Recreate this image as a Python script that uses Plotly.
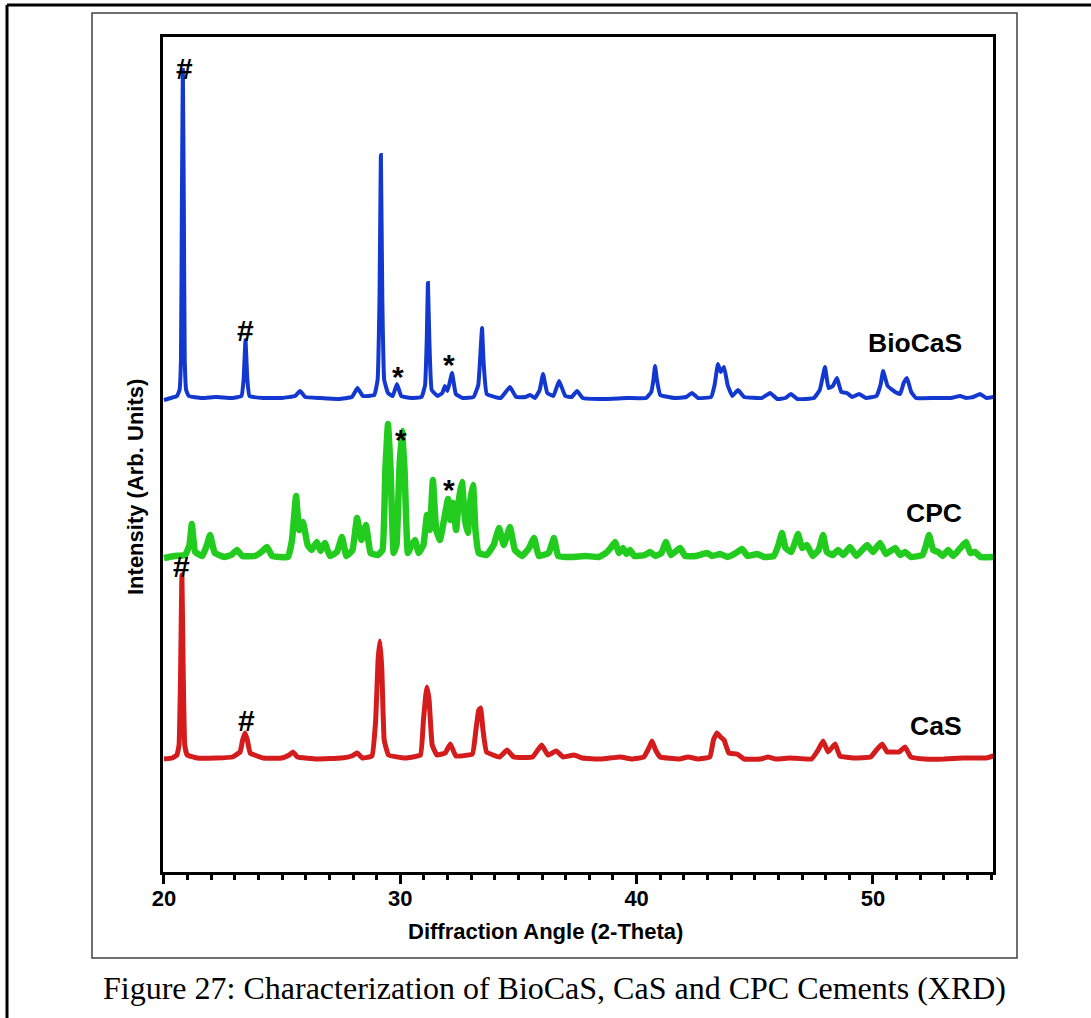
import plotly.graph_objects as go

# ---------------- data (2-theta, intensity in arbitrary units, stacked) ----------------
biocas_xy = [
    (20.00, 472), (20.30, 474), (20.55, 476), (20.66, 482), (20.72, 512), (20.76, 672),
    (20.80, 802), (20.84, 672), (20.88, 512), (20.94, 482), (21.05, 476), (21.60, 474),
    (22.20, 475), (22.90, 474), (23.28, 476), (23.37, 492), (23.45, 532), (23.53, 492),
    (23.62, 476), (24.20, 474), (25.00, 474), (25.55, 476), (25.76, 481), (25.98, 475),
    (26.60, 474), (27.40, 473), (27.95, 475), (28.19, 484), (28.42, 476), (28.90, 477),
    (29.04, 492), (29.12, 572), (29.18, 717), (29.24, 572), (29.32, 492), (29.48, 479),
    (29.68, 476), (29.86, 488), (30.04, 476), (30.45, 474), (30.90, 475), (31.05, 487),
    (31.12, 532), (31.17, 589), (31.23, 532), (31.33, 482), (31.58, 476), (31.78, 479),
    (31.89, 486), (32.00, 481), (32.19, 499), (32.35, 478), (32.65, 474), (33.10, 475),
    (33.30, 487), (33.40, 522), (33.46, 544), (33.52, 512), (33.66, 478), (34.25, 474),
    (34.64, 485), (34.90, 475), (35.30, 475), (35.49, 477), (35.70, 474), (35.90, 482),
    (36.04, 498), (36.22, 479), (36.48, 476), (36.72, 491), (36.98, 476), (37.25, 475),
    (37.48, 481), (37.72, 474), (38.60, 473), (39.60, 474), (40.40, 474), (40.62, 480),
    (40.71, 492), (40.78, 506), (40.86, 492), (41.00, 477), (41.60, 474), (42.10, 475),
    (42.34, 479), (42.60, 474), (43.15, 475), (43.30, 487), (43.44, 508), (43.56, 500),
    (43.70, 505), (43.85, 487), (44.05, 476), (44.29, 482), (44.55, 475), (45.30, 474),
    (45.65, 479), (45.95, 473), (46.30, 474), (46.53, 478), (46.80, 473), (47.50, 474),
    (47.75, 482), (47.97, 505), (48.12, 484), (48.30, 486), (48.48, 494), (48.66, 480),
    (48.90, 479), (49.12, 475), (49.41, 478), (49.70, 474), (50.15, 476), (50.32, 487),
    (50.43, 501), (50.62, 486), (50.94, 480), (51.15, 478), (51.30, 489), (51.44, 494),
    (51.62, 480), (51.82, 474), (52.60, 474), (53.30, 474), (53.69, 476), (53.95, 474),
    (54.25, 475), (54.53, 478), (54.80, 474), (55.10, 475),
]

cpc_xy = [
    (20.00, 314), (20.45, 316), (20.90, 317), (21.08, 327), (21.18, 348), (21.32, 320),
    (21.62, 316), (21.82, 327), (21.95, 337), (22.15, 319), (22.55, 315), (22.85, 317),
    (23.09, 322), (23.32, 316), (23.85, 316), (24.12, 320), (24.36, 325), (24.58, 316),
    (25.25, 315), (25.42, 332), (25.59, 376), (25.72, 342), (25.88, 350), (26.08, 327),
    (26.25, 322), (26.47, 330), (26.63, 321), (26.81, 329), (27.02, 316), (27.32, 320),
    (27.53, 335), (27.72, 316), (27.98, 322), (28.17, 354), (28.36, 332), (28.55, 347),
    (28.74, 319), (29.05, 317), (29.25, 322), (29.37, 402), (29.48, 448), (29.59, 402),
    (29.72, 319), (29.84, 327), (29.96, 402), (30.07, 441), (30.18, 402), (30.32, 319),
    (30.48, 327), (30.62, 332), (30.78, 319), (30.98, 327), (31.13, 357), (31.25, 342),
    (31.38, 392), (31.52, 342), (31.68, 332), (31.85, 352), (32.02, 373), (32.12, 352),
    (32.23, 369), (32.36, 342), (32.48, 372), (32.61, 390), (32.74, 352), (32.86, 339),
    (32.97, 372), (33.08, 387), (33.18, 342), (33.32, 319), (33.65, 317), (33.95, 327),
    (34.18, 344), (34.38, 327), (34.64, 345), (34.85, 322), (35.15, 316), (35.45, 324),
    (35.66, 334), (35.86, 316), (36.28, 319), (36.50, 334), (36.68, 316), (37.25, 315),
    (37.85, 316), (38.40, 315), (38.70, 319), (38.90, 324), (39.09, 330), (39.25, 319),
    (39.42, 324), (39.58, 318), (39.72, 322), (39.90, 316), (40.35, 317), (40.57, 320),
    (40.80, 316), (41.05, 319), (41.24, 330), (41.45, 317), (41.84, 324), (42.05, 316),
    (42.50, 316), (42.98, 319), (43.20, 316), (43.53, 318), (43.85, 315), (44.20, 319),
    (44.46, 323), (44.70, 316), (45.10, 318), (45.40, 315), (45.80, 316), (46.00, 327),
    (46.15, 339), (46.30, 324), (46.55, 320), (46.83, 338), (47.00, 324), (47.21, 327),
    (47.45, 316), (47.70, 322), (47.89, 337), (48.05, 320), (48.30, 317), (48.52, 322),
    (48.75, 317), (49.03, 325), (49.30, 316), (49.75, 327), (50.00, 320), (50.30, 329),
    (50.55, 318), (50.94, 324), (51.15, 317), (51.36, 320), (51.60, 315), (52.10, 317),
    (52.25, 327), (52.37, 337), (52.55, 322), (52.76, 320), (52.95, 316), (53.18, 322),
    (53.40, 316), (53.70, 324), (53.94, 330), (54.12, 319), (54.32, 320), (54.55, 315),
    (55.10, 315),
]

cas_xy = [
    (20.00, 113), (20.35, 114), (20.55, 117), (20.64, 127), (20.70, 192), (20.76, 297),
    (20.82, 192), (20.88, 127), (20.98, 117), (21.40, 114), (22.20, 114), (22.90, 115),
    (23.22, 120), (23.33, 132), (23.43, 139), (23.53, 132), (23.65, 119), (24.20, 114),
    (25.00, 114), (25.30, 117), (25.46, 120), (25.65, 115), (26.50, 113), (27.50, 114),
    (27.95, 116), (28.17, 119), (28.40, 114), (28.80, 116), (28.96, 152), (29.06, 212),
    (29.14, 231), (29.22, 202), (29.32, 132), (29.50, 117), (30.20, 114), (30.85, 117),
    (30.98, 152), (31.08, 177), (31.13, 185), (31.22, 172), (31.35, 127), (31.55, 117),
    (31.90, 119), (32.12, 128), (32.35, 116), (33.05, 118), (33.20, 142), (33.32, 162),
    (33.40, 164), (33.50, 142), (33.65, 120), (34.20, 115), (34.52, 122), (34.80, 115),
    (35.60, 115), (35.98, 127), (36.25, 117), (36.60, 121), (36.90, 115), (37.35, 117),
    (37.70, 114), (38.50, 113), (39.32, 115), (39.80, 113), (40.30, 115), (40.52, 124),
    (40.65, 131), (40.80, 122), (41.00, 115), (41.80, 113), (42.18, 115), (42.60, 113),
    (43.10, 115), (43.25, 132), (43.40, 139), (43.55, 135), (43.70, 132), (43.90, 119),
    (44.25, 118), (44.55, 113), (45.25, 113), (45.56, 115), (45.90, 113), (46.49, 114),
    (47.40, 113), (47.68, 122), (47.89, 131), (48.10, 120), (48.40, 128), (48.60, 116),
    (49.20, 114), (49.90, 115), (50.15, 122), (50.39, 128), (50.60, 120), (50.81, 120),
    (51.10, 120), (51.36, 125), (51.60, 115), (52.20, 113), (53.00, 113), (53.80, 114),
    (54.45, 114), (54.80, 114), (55.10, 116),
]

# peak markers (# and *)
mark_text = ["#", "#", "#", "#", "*", "*", "*", "*"]
mark_x = [20.85, 23.47, 20.76, 23.51, 29.90, 32.06, 30.03, 32.06]
mark_y = [804, 542, 306, 152, 496, 508, 433, 383]

# sample labels
label_text = ["BioCaS", "CPC", "CaS"]
label_x = [51.78, 52.59, 52.67]
label_y = [529, 359, 146]

x_ticks = [20, 30, 40, 50]
x_ticktext = ["20", "30", "40", "50"]

# ---------------- figure ----------------
W, H = 1091, 1018
L, R, T, B = 163, 98, 37, 146
PW, PH = W - L - R, H - T - B


def px(x):
    return (x - L) / PW


def py(y):
    return (H - B - y) / PH


SANS = "Liberation Sans, Arial, Helvetica, sans-serif"
SERIF = "Liberation Serif, Times New Roman, serif"

fig = go.Figure()

series = [
    (cas_xy, "CaS", "#d41c1c", 5),
    (cpc_xy, "CPC", "#22cc1e", 6.5),
    (biocas_xy, "BioCaS", "#1338d0", 4),
]
for data, name, color, width in series:
    xs = [p[0] for p in data]
    ys = [p[1] for p in data]
    fig.add_trace(go.Scatter(x=xs, y=ys, mode="lines", name=name,
                             line=dict(color=color, width=width, shape="spline", smoothing=0.3),
                             showlegend=False, hoverinfo="skip"))

annotations = []
for t, x, y in zip(mark_text, mark_x, mark_y):
    annotations.append(dict(x=x, y=y, xref="x", yref="y", text=t, showarrow=False,
                            font=dict(family=SANS, size=30, color="black", weight="bold"),
                            xanchor="center", yanchor="middle"))
for t, x, y in zip(label_text, label_x, label_y):
    annotations.append(dict(x=x, y=y, xref="x", yref="y", text=t, showarrow=False,
                            font=dict(family=SANS, size=26.5, color="black", weight="bold"),
                            xanchor="center", yanchor="middle"))

# axis titles and caption
annotations.append(dict(x=px(135), y=py(487), xref="paper", yref="paper",
                        text="Intensity (Arb. Units)", textangle=-90, showarrow=False,
                        font=dict(family=SANS, size=22, color="black", weight="bold"),
                        xanchor="center", yanchor="middle"))
annotations.append(dict(x=px(545), y=py(932), xref="paper", yref="paper",
                        text="Diffraction Angle (2-Theta)", showarrow=False,
                        font=dict(family=SANS, size=22, color="black", weight="bold"),
                        xanchor="center", yanchor="middle"))
annotations.append(dict(x=px(554), y=py(988), xref="paper", yref="paper",
                        text="Figure 27: Characterization of BioCaS, CaS and CPC Cements (XRD)",
                        showarrow=False,
                        font=dict(family=SERIF, size=32, color="black"),
                        xanchor="center", yanchor="middle"))

shapes = [
    # page border (top and left)
    dict(type="line", xref="paper", yref="paper", x0=px(7), x1=px(1095), y0=py(5), y1=py(5),
         line=dict(color="black", width=3)),
    dict(type="line", xref="paper", yref="paper", x0=px(7), x1=px(7), y0=py(5), y1=py(1022),
         line=dict(color="black", width=3)),
    # figure frame
    dict(type="rect", xref="paper", yref="paper", x0=px(92), x1=px(1017), y0=py(13), y1=py(958),
         line=dict(color="#404040", width=1.5)),
]

fig.update_layout(
    width=W, height=H,
    margin=dict(l=L, r=R, t=T, b=B, pad=0),
    paper_bgcolor="white", plot_bgcolor="white",
    annotations=annotations, shapes=shapes,
    xaxis=dict(range=[19.96, 55.08], tickmode="array", tickvals=x_ticks, ticktext=x_ticktext,
               ticks="outside", ticklen=9, tickwidth=3, tickcolor="black",
               ticklabelstandoff=-4,
               minor=dict(dtick=1, tick0=20, ticks="outside", ticklen=5, tickwidth=2.5,
                          tickcolor="black"),
               showline=True, linecolor="black", linewidth=3, mirror=True,
               showgrid=False, zeroline=False,
               tickfont=dict(family=SANS, size=22, color="black", weight="bold")),
    yaxis=dict(range=[0, 835], showticklabels=False, ticks="",
               showline=True, linecolor="black", linewidth=3, mirror=True,
               showgrid=False, zeroline=False),
)

fig.write_html("out.html", config={"displayModeBar": False},
               post_script="document.body.style.margin='0';document.body.style.overflow='hidden';")
